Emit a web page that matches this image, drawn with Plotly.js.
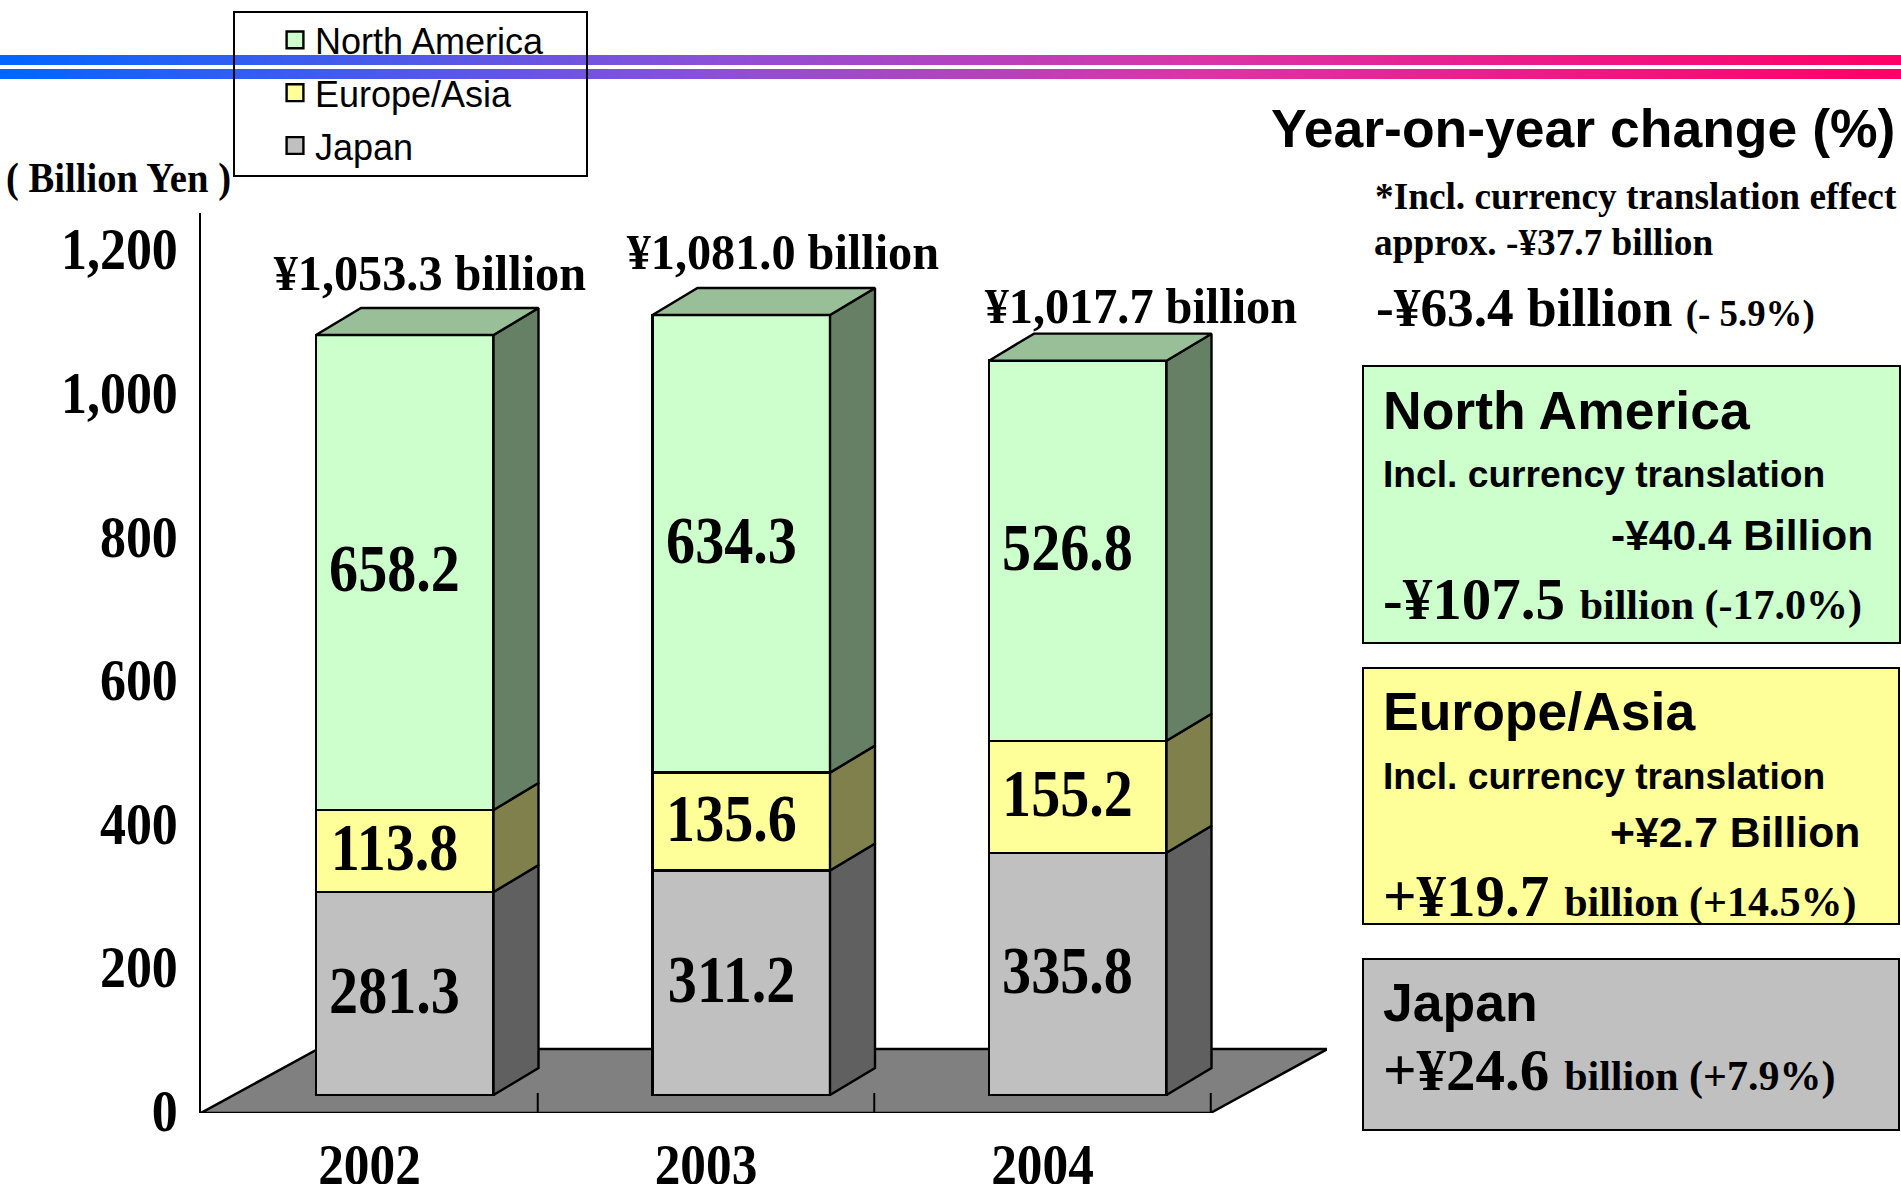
<!DOCTYPE html>
<html>
<head>
<meta charset="utf-8">
<script src="https://cdn.plot.ly/plotly-3.0.1.min.js"></script>
<style>html,body{margin:0;padding:0;background:#fff;overflow:hidden}</style>
</head>
<body>
<div id="chart" style="width:1901px;height:1184px"></div>
<script>
// ---------- data ----------
const years = [2002, 2003, 2004];
const japan = [281.3, 311.2, 335.8];
const europeAsia = [113.8, 135.6, 155.2];
const northAmerica = [658.2, 634.3, 526.8];
const totals = [1053.3, 1081.0, 1017.7];
const yTicks = [0, 200, 400, 600, 800, 1000, 1200];
const seriesNames = ['Japan', 'Europe/Asia', 'North America'];

// ---------- styles ----------
const W = 1901, H = 1184;
const SERIF = '"Liberation Serif", serif', SANS = '"Liberation Sans", sans-serif';
const frontColors = ['#C0C0C0', '#FFFF99', '#CCFFCC'];
const sideColors = ['#606060', '#80804D', '#668066'];
const topColor = '#99BF99';
const floorColor = '#808080';

// plot frame in pixels
const pLeft = 201, pRight = 1327, pTop = 213, pBottom = 1113;
const pxPerCat = 336.5, pxPerVal = 0.7215, barBase = 1095;
const xMin = 2002 - (369.5 - pLeft) / pxPerCat;
const xMax = xMin + (pRight - pLeft) / pxPerCat;
const yMin = -(pBottom - barBase) / pxPerVal;
const yMax = (barBase - pTop) / pxPerVal;
const barWidth = 177.5 / pxPerCat;
const frontShift = 35.25 / pxPerCat;
const dx = 45 / pxPerCat, dy = 27 / pxPerVal;
const stacks = [japan, europeAsia, northAmerica];
const edge = 2.4;

const traces = [];
// gradient double rule across the page
[[0, 10], [14, 24]].forEach(([a, b]) => traces.push({
  type: 'scatter', xaxis: 'x3', yaxis: 'y3', mode: 'none', fill: 'toself',
  x: [0, 1, 1, 0, 0], y: [a, a, b, b, a], showlegend: false, hoverinfo: 'skip',
  fillgradient: {type: 'horizontal', colorscale: [[0, '#0066FF'], [0.37, '#8A50D8'], [0.63, '#D935A8'], [1, '#FF0066']]}
}));
// front faces: stacked bars
stacks.forEach((vals, i) => traces.push({
  type: 'bar', name: seriesNames[i], x: years, y: vals,
  width: barWidth, offset: frontShift - barWidth / 2,
  marker: {color: frontColors[i], line: {color: '#000', width: edge}},
  legendgroup: seriesNames[i], legendrank: 3 - i, hoverinfo: 'skip'
}));
// side and top faces derived from the stack values
const annotations = [];
const squeeze = [];
function note(o, s, anchor) { annotations.push(Object.assign({showarrow: false, borderpad: 0, borderwidth: 0}, o)); squeeze.push([s || 1, anchor || 'c']); }
years.forEach((yr, k) => {
  let base = 0;
  const xr = yr + frontShift + barWidth / 2, xl = yr + frontShift - barWidth / 2;
  stacks.forEach((vals, i) => {
    const t = base + vals[k];
    traces.push({type: 'scatter', mode: 'lines', fill: 'toself', fillcolor: sideColors[i],
      x: [xr, xr + dx, xr + dx, xr, xr], y: [base, base + dy, t + dy, t, base],
      line: {color: '#000', width: edge}, showlegend: false, hoverinfo: 'skip'});
    note({xref: 'x', yref: 'y', x: yr + frontShift, xshift: -10, yshift: 4, y: base + vals[k] / 2, text: vals[k].toFixed(1),
      font: {family: SERIF, size: 68, weight: 700, color: '#000'}}, 0.855);
    base = t;
  });
  traces.push({type: 'scatter', mode: 'lines', fill: 'toself', fillcolor: topColor,
    x: [xl, xl + dx, xr + dx, xr, xl], y: [base, base + dy, base + dy, base, base],
    line: {color: '#000', width: edge}, showlegend: false, hoverinfo: 'skip'});
});
// category boundary ticks on the floor
const tickX = [], tickY = [];
[2002.5, 2003.5, 2004.5].forEach(v => { tickX.push(v, v, null); tickY.push(yMin, yMin + 20 / pxPerVal, null); });
traces.push({type: 'scatter', mode: 'lines', x: tickX, y: tickY, line: {color: '#000', width: 2}, showlegend: false, hoverinfo: 'skip'});
// carrier of the value axis
traces.push({type: 'scatter', mode: 'none', x: years, y: totals, yaxis: 'y2', showlegend: false, hoverinfo: 'skip'});

// total labels above each bar
const totalShiftX = [25, 42, 63], totalShiftY = [62, 63, 54.5];
years.forEach((yr, k) => note({xref: 'x', yref: 'y', x: yr + frontShift, y: totals[k], xshift: totalShiftX[k], yshift: totalShiftY[k],
  text: '¥' + totals[k].toLocaleString('en-US', {minimumFractionDigits: 1}) + ' billion',
  font: {family: SERIF, size: 50, weight: 700, color: '#000'}}, 0.965));

// free text in page pixels
function page(text, px, py, size, family, anchor, s) {
  note({xref: 'paper', yref: 'paper', x: px / W, y: 1 - py / H, xanchor: anchor, yanchor: 'middle', align: anchor, text,
    font: {family, size, weight: 700, color: '#000'}}, s, anchor === 'left' ? 'l' : anchor === 'right' ? 'r' : 'c');
}
const sm = t => '<span style="font-size:42px">' + t + '</span>';
page('( Billion Yen )', 6, 178, 42, SERIF, 'left', 0.92);
page('Year-on-year change (%)', 1895, 128, 53.5, SANS, 'right');
page('*Incl. currency translation effect', 1375, 196, 37.3, SERIF, 'left');
page('approx. -¥37.7 billion', 1374, 242, 37.3, SERIF, 'left');
page('-¥63.4 billion <span style="font-size:38px">(- 5.9%)</span>', 1376, 307, 55, SERIF, 'left', 0.97);
page('North America', 1383, 410, 53.5, SANS, 'left');
page('Incl. currency translation', 1383, 474, 37.2, SANS, 'left');
page('-¥40.4 Billion', 1873, 535, 42.5, SANS, 'right');
page('-¥107.5 ' + sm('billion (-17.0%)'), 1383, 599, 59, SERIF, 'left');
page('Europe/Asia', 1383, 711, 53.5, SANS, 'left');
page('Incl. currency translation', 1383, 776, 37.2, SANS, 'left');
page('+¥2.7 Billion', 1860, 832, 42.7, SANS, 'right');
page('+¥19.7 ' + sm('billion (+14.5%)'), 1383, 896, 59, SERIF, 'left');
page('Japan', 1383, 1002, 53.5, SANS, 'left');
page('+¥24.6 ' + sm('billion (+7.9%)'), 1383, 1070, 59, SERIF, 'left');

// shapes
const rect = (x0, y0, x1, y1, fill, w) => ({type: 'rect', xref: 'paper', yref: 'paper', x0: x0 / W, x1: x1 / W, y0: 1 - y0 / H, y1: 1 - y1 / H,
  fillcolor: fill, line: {color: '#000', width: w || 2}, layer: 'below'});
const floorBack = yMin + (pBottom - 1049) / pxPerVal, floorDepth = 117 / pxPerCat;
const xFloorEnd = xMin + 3;
const shapes = [
  {type: 'path', xref: 'x', yref: 'y', layer: 'below', fillcolor: floorColor, line: {color: '#000', width: 2.5},
   path: `M${xMin},${yMin}L${xMin + floorDepth},${floorBack}L${xFloorEnd + floorDepth},${floorBack}L${xFloorEnd},${yMin}Z`},
  rect(1363, 366, 1900, 643, '#CCFFCC'),
  rect(1363, 668, 1899, 924, '#FFFF99'),
  rect(1363, 959, 1899, 1130, '#C0C0C0'),
  Object.assign(rect(234, 12, 587, 176, 'rgba(0,0,0,0)'), {layer: 'above'})
];

const layout = {
  width: W, height: H, autosize: false, paper_bgcolor: '#fff', plot_bgcolor: 'rgba(0,0,0,0)',
  margin: {l: 0, r: 0, t: 0, b: 0, pad: 0, autoexpand: false},
  barmode: 'stack', showlegend: true, hovermode: false,
  xaxis: {domain: [pLeft / W, pRight / W], range: [xMin, xMax], tickmode: 'array', tickvals: years, ticks: '', showgrid: false, zeroline: false,
    showline: false, ticklabelstandoff: 13, tickfont: {family: SERIF, size: 57, weight: 700, color: '#000'}, anchor: 'y', fixedrange: true},
  yaxis: {domain: [1 - pBottom / H, 1 - pTop / H], range: [yMin, yMax], visible: false, fixedrange: true},
  yaxis2: {domain: [1 - pBottom / H, 1 - pTop / H], overlaying: 'y', side: 'left', anchor: 'x', range: [0, 900 / 0.7183], tickmode: 'array', tickvals: yTicks,
    tickformat: ',', ticks: '', showgrid: false, zeroline: false, showline: true, linecolor: '#000', linewidth: 2.4, ticklabelstandoff: 9,
    tickfont: {family: SERIF, size: 59, weight: 700, color: '#000'}, fixedrange: true},
  xaxis3: {domain: [0, 1], range: [0, 1], visible: false, anchor: 'y3', fixedrange: true},
  yaxis3: {domain: [1 - 79 / H, 1 - 55 / H], range: [0, 24], visible: false, anchor: 'x3', fixedrange: true},
  legend: {x: 275 / W, y: 1 - 10 / H, xanchor: 'left', yanchor: 'top', bgcolor: 'rgba(0,0,0,0)', borderwidth: 0, traceorder: 'grouped',
    tracegroupgap: 3, font: {family: SANS, size: 36, color: '#000'}, itemclick: false, itemdoubleclick: false},
  shapes, annotations
};

Plotly.newPlot('chart', traces, layout, {staticPlot: true, displayModeBar: false}).then(() => {
  const squish = (el, s, anchor, up) => {
    const b = el.getBBox();
    const a = anchor === 'l' ? b.x : anchor === 'r' ? b.x + b.width : b.x + b.width / 2;
    const prev = el.getAttribute('transform') || '';
    el.setAttribute('transform', `${prev} translate(${a},${-(up || 0)}) scale(${s},1) translate(${-a},0)`);
  };
  document.querySelectorAll('.annotation').forEach(g => {
    const i = +g.getAttribute('data-index');
    const t = g.querySelector('text');
    if (t && squeeze[i] && squeeze[i][0] !== 1) squish(t, squeeze[i][0], squeeze[i][1]);
  });
  document.querySelectorAll('.xtick text').forEach(t => squish(t, 0.9, 'c'));
  document.querySelectorAll('.y2tick text').forEach(t => squish(t, 0.88, 'r', 2.5));
  document.querySelectorAll('.legend .legendpoints path').forEach(p => {
    const prev = p.getAttribute('transform') || '';
    p.setAttribute('transform', `${prev} scale(1.4)`);
    p.style.vectorEffect = 'non-scaling-stroke';
  });
});
</script>
</body>
</html>
